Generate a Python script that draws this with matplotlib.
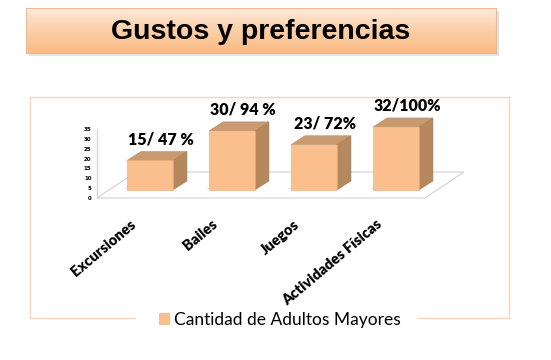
import numpy as np
import matplotlib
matplotlib.use("Agg")
import matplotlib.pyplot as plt
from matplotlib.patches import Polygon, Rectangle
from matplotlib.lines import Line2D
from matplotlib.colors import LinearSegmentedColormap
from matplotlib.transforms import offset_copy

# datos
categorias = ["Excursiones", "Bailes", "Juegos", "Actividades Físicas"]
cantidad = [15, 30, 23, 32]
etiquetas = ["15/ 47 %", "30/ 94 %", "23/ 72%", "32/100%"]
serie = "Cantidad de Adultos Mayores"
titulo = "Gustos y preferencias"
yticks = [0, 5, 10, 15, 20, 25, 30, 35]

W, H = 551, 360
fig = plt.figure(figsize=(W / 100, H / 100), dpi=100)


def fx(px):
    return px / W


def fy(py):
    return 1 - py / H


# caja del titulo con degradado
fig.add_artist(Rectangle((fx(29), fy(56)), fx(470), 45 / H, transform=fig.transFigure,
                         facecolor="#d8d8d8", edgecolor="none", alpha=0.7, zorder=0))
tax = fig.add_axes([fx(26), fy(53), fx(470), 45 / H])
grad = np.linspace(0, 1, 64).reshape(-1, 1)
cmap_t = LinearSegmentedColormap.from_list("t", ["#fdeadb", "#fccfa6", "#fabb85"])
tax.imshow(grad, aspect="auto", cmap=cmap_t, extent=[0, 1, 0, 1], origin="upper")
tax.set_xticks([])
tax.set_yticks([])
for s in tax.spines.values():
    s.set_color("#f2b98c")
    s.set_linewidth(0.8)
tax.text(0.5, 0.47, titulo, ha="center", va="center", fontsize=20.5, fontweight="bold",
         family="Liberation Sans", color="black", transform=tax.transAxes)

# marco del grafico
marco = "#f8d5b8"
for (x0, y0, x1, y1) in [(30, 97, 509, 97), (30, 97, 30, 318), (509, 97, 509, 318),
                         (30, 318, 135, 318), (418, 318, 509, 318)]:
    fig.add_artist(Line2D([fx(x0), fx(x1)], [fy(y0), fy(y1)], transform=fig.transFigure,
                          color=marco, lw=1.0))

# ejes
ax = fig.add_axes([fx(97), fy(198), 328 / W, 69 / H])
ax.set_xlim(-0.5, 3.5)
ax.set_ylim(0, 35)
px_x = 328 / 4
px_y = 69 / 35

x = np.arange(len(categorias))
v = np.array(cantidad)

# piso
fdx, fdy = 39 / px_x, 26 / px_y
piso = Polygon([(-0.5, 0), (3.5, 0), (3.5 + fdx, fdy), (-0.5 + fdx, fdy)], closed=True,
               facecolor="white", edgecolor="#d6d6d6", lw=0.9, clip_on=False, zorder=1)
ax.add_patch(piso)

# barras 3d
ox, oy = 12 / px_x, 8 / px_y
bw = 46 / px_x
dx, dy = 14 / px_x, 9 / px_y
frente = "#fbbf8e"
arriba = "#c99a70"
lado = "#b6885e"

for xi, vi in zip(x, v):
    sombra = Polygon([(xi + ox - bw / 2 - 3 / px_x, oy + 1 / px_y),
                      (xi + ox + bw / 2, oy + 1 / px_y),
                      (xi + ox + bw / 2 + dx, oy + dy),
                      (xi + ox - bw / 2 + dx - 3 / px_x, oy + dy)],
                     facecolor="#dadada", edgecolor="none", alpha=0.7, clip_on=False, zorder=2)
    ax.add_patch(sombra)

ax.bar(x + ox, v, bottom=oy, width=bw, color=frente, edgecolor="#e9a874", lw=0.4,
       clip_on=False, zorder=4, label=serie)

for xi, vi in zip(x, v):
    l = xi + ox - bw / 2
    r = xi + ox + bw / 2
    top = vi + oy
    ax.add_patch(Polygon([(l, top), (r, top), (r + dx, top + dy), (l + dx, top + dy)],
                         facecolor=arriba, edgecolor="#b8875d", lw=0.3, clip_on=False, zorder=3))
    ax.add_patch(Polygon([(r, oy), (r, top), (r + dx, top + dy), (r + dx, oy + dy)],
                         facecolor=lado, edgecolor="#a57650", lw=0.3, clip_on=False, zorder=3))

# etiquetas de datos
tr = offset_copy(ax.transData, fig=fig, x=11, y=16, units="dots")
for xi, vi, et in zip(x, v, etiquetas):
    ax.text(xi + ox, vi + oy, et, transform=tr, ha="center", va="baseline",
            fontsize=11.5, fontweight="heavy", family="Lato", color="black", zorder=6)

# ejes y ticks
for k in ["top", "right", "bottom"]:
    ax.spines[k].set_visible(False)
ax.spines["left"].set_color("#d6d6d6")
ax.spines["left"].set_linewidth(0.9)
ax.set_yticks(yticks)
ax.set_yticklabels([str(t) for t in yticks], fontsize=4, fontweight="bold")
ax.tick_params(axis="y", length=0, pad=4)
ax.set_xticks(x)
ax.set_xticklabels(categorias, rotation=40, ha="right", va="top", fontsize=10.5,
                   fontweight="heavy", family="Lato")
ax.tick_params(axis="x", length=0, pad=14)
ax.patch.set_visible(False)

# leyenda
fig.legend(loc="center", bbox_to_anchor=(fx(280), fy(320)), frameon=False,
           handlelength=0.6, handleheight=0.6, handletextpad=0.3,
           prop={"family": "Lato", "size": 12.5})

fig.savefig("out.png", dpi=100)
